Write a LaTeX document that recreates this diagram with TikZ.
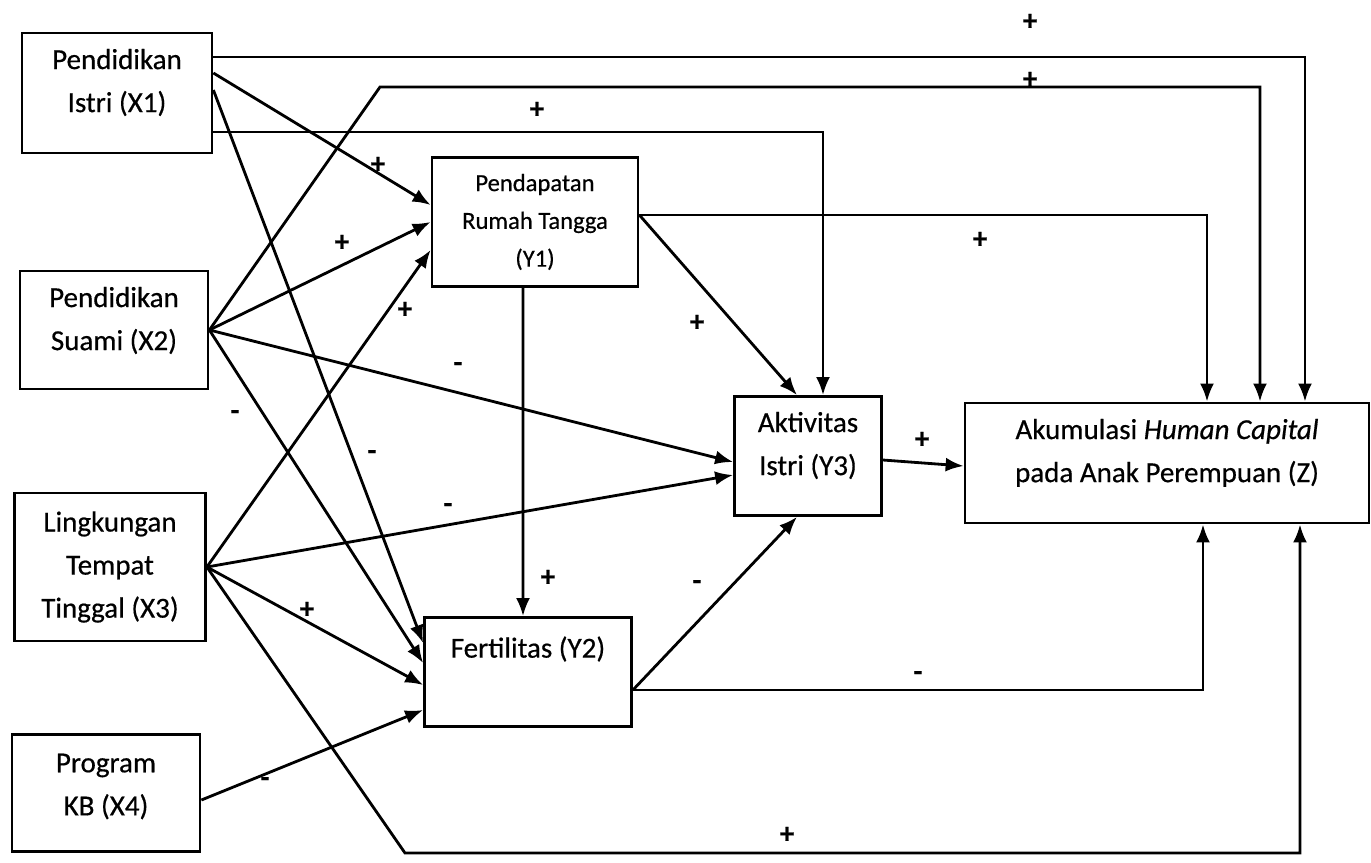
\documentclass[tikz,border=0pt]{standalone}
\usepackage{fontspec}
\setmainfont{Carlito}[FakeBold=0.5,ItalicFeatures={FakeBold=0.5}]
\usepackage{tikz}
\usetikzlibrary{positioning,arrows.meta}

\begin{document}
\begin{tikzpicture}[x=0.02cm,y=-0.02cm,line width=1.6pt,>={Latex[length=0.36cm,width=0.28cm]},
  box/.style={draw,rectangle,align=center,inner sep=0pt,font=\fontsize{16.5}{24.5}\selectfont},
  sign/.style={font=\fontsize{16.5}{20}\selectfont\bfseries,inner sep=0pt}]
\useasboundingbox (0,0) rectangle (1371,862);
\node[box,minimum width=3.8cm,minimum height=2.4cm,text depth=0.5cm] (X1) at (117,93) {Pendidikan\\Istri (X1)};
\node[box,minimum width=3.76cm,minimum height=2.36cm,text depth=0.46cm] (X2) at (114,330) {Pendidikan\\Suami (X2)};
\node[box,minimum width=3.82cm,minimum height=2.96cm] (X3) at (110,567) {Lingkungan\\Tempat\\Tinggal (X3)};
\node[box,minimum width=3.76cm,minimum height=2.34cm,text depth=0.34cm] (X4) at (106,793) {Program\\KB (X4)};
\node[box,minimum width=4.12cm,minimum height=2.58cm,font=\fontsize{14}{21.5}\selectfont] (Y1) at (535,222) {Pendapatan\\Rumah Tangga\\(Y1)};
\node[box,minimum width=4.14cm,minimum height=2.18cm,text depth=1cm] (Y2) at (528,672) {Fertilitas (Y2)};
\node[box,minimum width=2.94cm,minimum height=2.38cm,text depth=0.5cm] (Y3) at (808,456) {Aktivitas\\Istri (Y3)};
\node[box,minimum width=8.08cm,minimum height=2.4cm,text depth=0.5cm] (Z) at (1167,463) {Akumulasi \textit{Human Capital}\\pada Anak Perempuan (Z)};
\coordinate (bendA) at (380,87);
\coordinate (bendB) at (405,853);
%
\draw[->] ([yshift=0.72cm]X1.east) -| ([xshift=2.76cm]Z.north);
\draw[->] (X2.east) -- (bendA) -| ([xshift=1.86cm]Z.north);
\draw[->] ([yshift=-0.78cm]X1.east) -| ([xshift=0.3cm]Y3.north);
\draw[->] ([yshift=0.4cm]X1.east) -- ([yshift=0.34cm]Y1.west);
\draw[->] ([yshift=0.06cm]X1.east) -- ([yshift=0.58cm]Y2.west);
\draw[->] (X2.east) -- (Y1.west);
\draw[->] (X2.east) -- ([yshift=-0.12cm]Y3.west);
\draw[->] (X2.east) -- ([yshift=0.18cm]Y2.west);
\draw[->] (X3.east) -- ([yshift=-0.56cm]Y1.west);
\draw[->] (X3.east) -- ([yshift=-0.38cm]Y3.west);
\draw[->] (X3.east) -- ([yshift=-0.26cm]Y2.west);
\draw[->] (X3.east) -- (bendB) -| ([xshift=2.66cm]Z.south);
\draw[->] ([yshift=-0.14cm]X4.east) -- ([yshift=-0.76cm]Y2.west);
\draw[->] ([yshift=0.14cm]Y1.east) -- ([xshift=-0.22cm]Y3.north);
\draw[->] ([yshift=0.14cm]Y1.east) -| ([xshift=0.8cm]Z.north);
\draw[->] ([xshift=-0.24cm]Y1.south) -- ([xshift=-0.1cm]Y2.north);
\draw[->] ([yshift=-0.36cm]Y2.east) -- ([xshift=-0.22cm]Y3.south);
\draw[->] ([yshift=-0.36cm]Y2.east) -| ([xshift=0.72cm]Z.south);
\draw[->] ([yshift=-0.08cm]Y3.east) -- ([yshift=-0.06cm]Z.west);
%
\node[sign] (s1) at (1030,22) {+};
\node[sign] (s2) at (1030,80) {+};
\node[sign] (s3) at (537,110) {+};
\node[sign] (s4) at (378,165) {+};
\node[sign] (s5) at (342,243) {+};
\node[sign] (s6) at (405,310) {+};
\node[sign] (s7) at (458,367) {-};
\node[sign] (s8) at (448,508) {-};
\node[sign] (s9) at (307,610) {+};
\node[sign] (s10) at (265,782) {-};
\node[sign] (s11) at (235,415) {-};
\node[sign] (s12) at (372,455) {-};
\node[sign] (s13) at (697,323) {+};
\node[sign] (s14) at (980,240) {+};
\node[sign] (s15) at (548,578) {+};
\node[sign] (s16) at (697,585) {-};
\node[sign] (s17) at (918,676) {-};
\node[sign] (s18) at (922,440) {+};
\node[sign] (s19) at (787,835) {+};
\end{tikzpicture}
\end{document}
